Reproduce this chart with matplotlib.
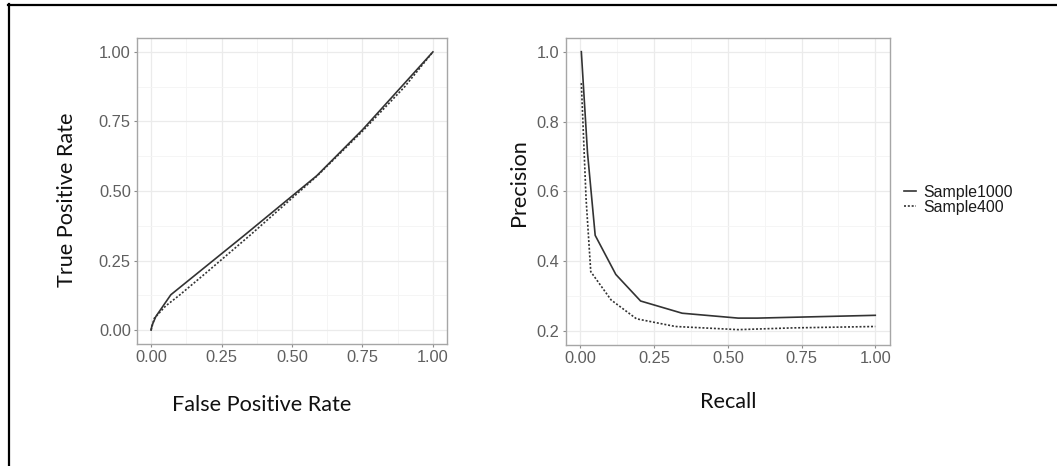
import matplotlib
matplotlib.use("Agg")
import matplotlib.pyplot as plt
from matplotlib.lines import Line2D
from matplotlib.ticker import FixedLocator

# ROC curves
roc_fpr_1000 = [0.0, 0.003, 0.017, 0.07, 0.33, 0.588, 0.75, 0.9, 1.0]
roc_tpr_1000 = [0.0, 0.016, 0.049, 0.127, 0.34, 0.555, 0.72, 0.888, 1.0]
roc_fpr_400 = [0.0, 0.011, 0.052, 0.1, 0.2, 0.35, 0.588, 0.75, 0.9, 1.0]
roc_tpr_400 = [0.0, 0.042, 0.087, 0.125, 0.21, 0.34, 0.553, 0.715, 0.875, 1.0]

# precision-recall curves
pr_rec_1000 = [0.003, 0.024, 0.05, 0.12, 0.204, 0.345, 0.535, 0.6, 1.0]
pr_prec_1000 = [1.0, 0.71, 0.474, 0.362, 0.286, 0.251, 0.237, 0.237, 0.245]
pr_rec_400 = [0.003, 0.019, 0.035, 0.104, 0.19, 0.322, 0.535, 0.72, 1.0]
pr_prec_400 = [0.91, 0.58, 0.37, 0.289, 0.235, 0.213, 0.204, 0.209, 0.213]

roc_ticks = [0.0, 0.25, 0.5, 0.75, 1.0]
pr_yticks = [0.2, 0.4, 0.6, 0.8, 1.0]
series = ["Sample1000", "Sample400"]

LINE_COL = "#333333"
DOT = (0, (1.2, 1.1))
TICK_FONT = "Liberation Sans"
TITLE_FONT = "Lato"


def style_axes(ax, xmajor, ymajor, xminor, yminor):
    ax.set_facecolor("white")
    ax.xaxis.set_major_locator(FixedLocator(xmajor))
    ax.yaxis.set_major_locator(FixedLocator(ymajor))
    ax.xaxis.set_minor_locator(FixedLocator(xminor))
    ax.yaxis.set_minor_locator(FixedLocator(yminor))
    ax.grid(which="major", color="#ebebeb", lw=0.9)
    ax.grid(which="minor", color="#f4f4f4", lw=0.6)
    ax.set_axisbelow(True)
    for sp in ax.spines.values():
        sp.set_color("#a6a6a6")
        sp.set_linewidth(1.0)
    ax.tick_params(which="major", length=2.5, width=0.8, color="#8c8c8c",
                   labelcolor="#5f5f5f", labelsize=11.8, pad=2)
    ax.tick_params(which="minor", length=0)


def set_tick_font(ax):
    for lab in ax.get_xticklabels() + ax.get_yticklabels():
        lab.set_fontfamily(TICK_FONT)


fig = plt.figure(figsize=(10.57, 4.66), dpi=100)

# left: ROC
ax1 = fig.add_axes([137 / 1057, 1 - 344 / 466, 310 / 1057, 306 / 466])
ax1.plot(roc_fpr_1000, roc_tpr_1000, color=LINE_COL, lw=1.2)
ax1.plot(roc_fpr_400, roc_tpr_400, color=LINE_COL, lw=1.2, ls=DOT)
ax1.set_xlim(-0.05, 1.05)
ax1.set_ylim(-0.05, 1.05)
style_axes(ax1, roc_ticks, roc_ticks, [0.125, 0.375, 0.625, 0.875], [0.125, 0.375, 0.625, 0.875])
ax1.set_xticklabels(["%.2f" % t for t in roc_ticks])
ax1.set_yticklabels(["%.2f" % t for t in roc_ticks])
set_tick_font(ax1)

# right: precision-recall
ax2 = fig.add_axes([565.7 / 1057, 1 - 345 / 466, 324.3 / 1057, 307.3 / 466])
ax2.plot(pr_rec_1000, pr_prec_1000, color=LINE_COL, lw=1.2, label=series[0])
ax2.plot(pr_rec_400, pr_prec_400, color=LINE_COL, lw=1.2, ls=DOT, label=series[1])
ax2.set_xlim(-0.05, 1.05)
ax2.set_ylim(0.16, 1.04)
style_axes(ax2, roc_ticks, pr_yticks, [0.125, 0.375, 0.625, 0.875], [0.3, 0.5, 0.7, 0.9])
ax2.set_xticklabels(["%.2f" % t for t in roc_ticks])
ax2.set_yticklabels(["%.1f" % t for t in pr_yticks])
set_tick_font(ax2)

leg = ax2.legend(loc="center left", bbox_to_anchor=(1.025, 0.472), frameon=False,
                 handlelength=0.7, handletextpad=0.5, labelspacing=0.0,
                 borderaxespad=0.0, prop={"family": TICK_FONT, "size": 11.4})
for t in leg.get_texts():
    t.set_color("#1a1a1a")

# axis titles
fig.text(262 / 1057, 1 - 405 / 466, "False Positive Rate", family=TITLE_FONT,
         size=15.6, ha="center", va="center", color="#111111")
fig.text(67 / 1057, 1 - 200 / 466, "True Positive Rate", family=TITLE_FONT,
         size=15.6, ha="center", va="center", rotation=90, color="#111111")
fig.text(728.5 / 1057, 1 - 402 / 466, "Recall", family=TITLE_FONT,
         size=15.6, ha="center", va="center", color="#111111")
fig.text(519 / 1057, 1 - 183 / 466, "Precision", family=TITLE_FONT,
         size=15.6, ha="center", va="center", rotation=90, color="#111111")

# frame lines along top and left edges
fig.add_artist(Line2D([8 / 1057, 1.0], [1 - 4.5 / 466, 1 - 4.5 / 466],
                      transform=fig.transFigure, color="black", lw=1.6))
fig.add_artist(Line2D([9 / 1057, 9 / 1057], [0.0, 1 - 4 / 466],
                      transform=fig.transFigure, color="black", lw=1.6))

fig.savefig("out.png", dpi=100, facecolor="white")
